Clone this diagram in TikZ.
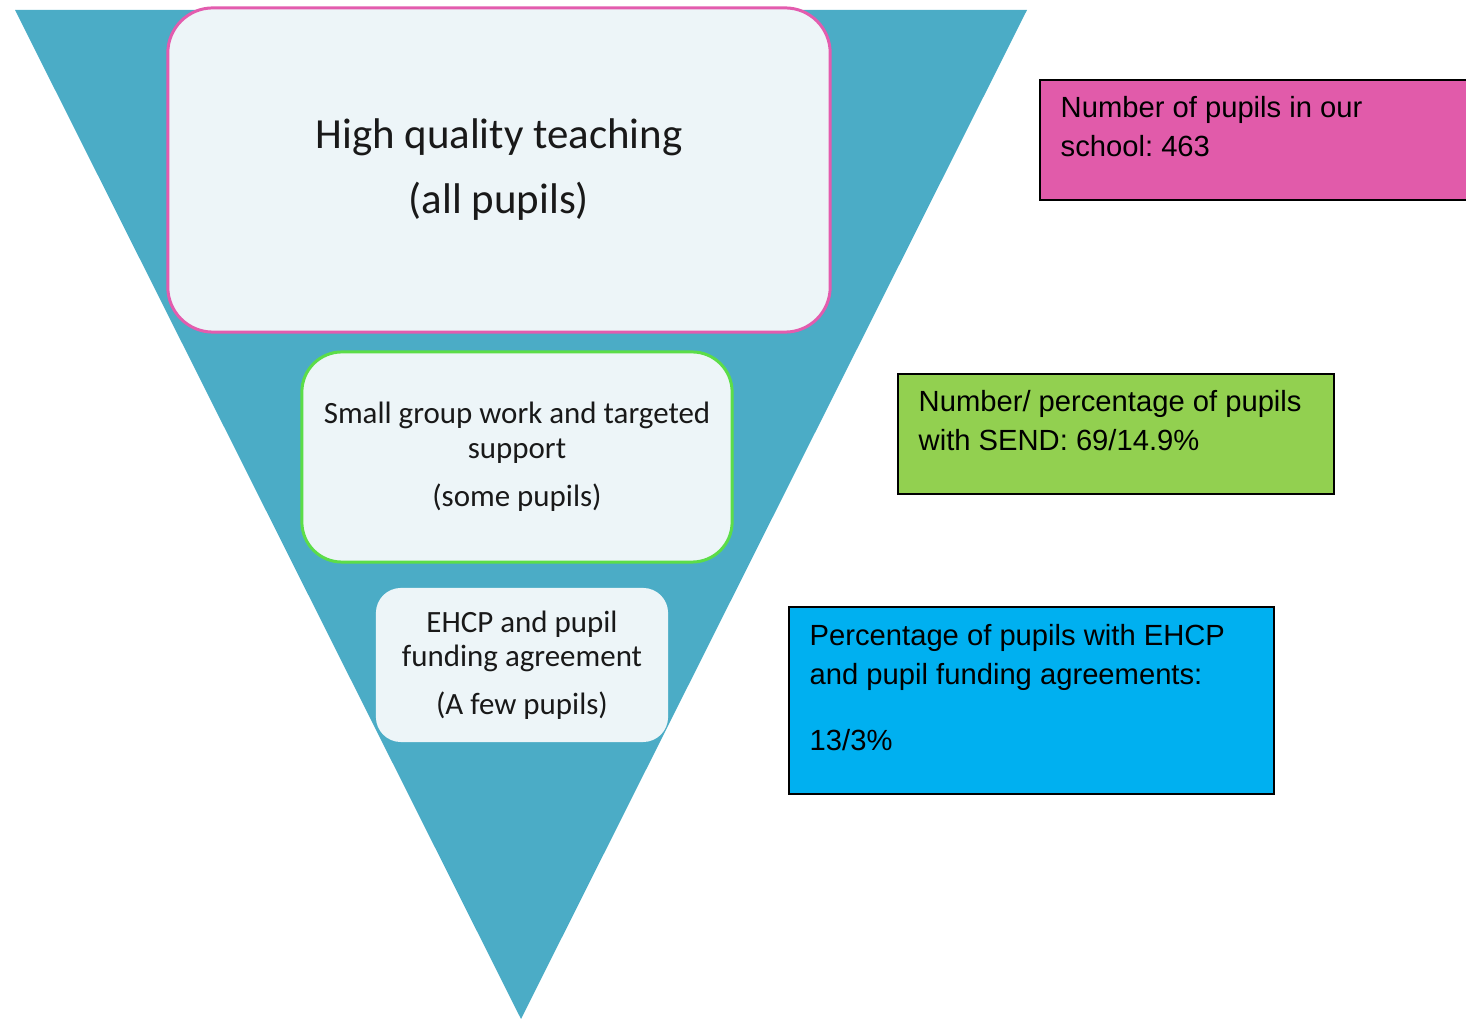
\documentclass[tikz,border=0pt]{standalone}
\usepackage{fontspec}
\setmainfont{Liberation Sans}
\newfontfamily\calfont{Carlito}
\usepackage{xcolor}
\definecolor{aqua}{HTML}{4BACC6}
\definecolor{pale}{HTML}{EDF5F8}
\definecolor{rose}{HTML}{E35CAE}
\definecolor{lime}{HTML}{5CDD48}
\definecolor{pinkfill}{HTML}{E15BAA}
\definecolor{greenfill}{HTML}{92D050}
\definecolor{bluefill}{HTML}{00B0F0}
\usepackage{tikz}
\usetikzlibrary{positioning}
\frenchspacing

\tikzset{
  tier/.style={fill=pale, align=center, inner sep=0pt, text=black!90},
  infobox/.style={draw=black, line width=.6pt, anchor=north west, inner sep=0pt},
  infotext/.style={anchor=north west, align=left, inner sep=0pt,
    font=\fontsize{8.3}{11.1}\selectfont}
}

\begin{document}
\begin{tikzpicture}[x=0.01cm, y=-0.01cm]
\useasboundingbox (0,0) rectangle (1466,1019);

%%% the big triangle
\fill[aqua] (15,10) -- (1027,10) -- (521,1019) -- cycle;

%%% tiers inside
\node[tier, draw=rose, line width=.85pt, rounded corners=.45cm,
  minimum width=6.62cm, minimum height=3.24cm,
  font=\calfont\fontsize{12.2}{18.5}\selectfont] (allpupils) at (499,170)
  {High quality teaching\\(all pupils)};

\node[tier, draw=lime, line width=.85pt, rounded corners=.4cm,
  minimum width=4.30cm, minimum height=2.10cm,
  font=\calfont\fontsize{8.8}{10}\selectfont] (somepupils) at (517,457)
  {Small group work and targeted\\support\\[3.7pt](some pupils)};

\node[tier, rounded corners=.25cm,
  minimum width=2.92cm, minimum height=1.54cm,
  font=\calfont\fontsize{8.8}{9.7}\selectfont] (fewpupils) at (522,665)
  {EHCP and pupil\\funding agreement\\[4pt](A few pupils)};

%%% the figures on the right
\node[infobox, fill=pinkfill, minimum width=5cm, minimum height=1.20cm] (pinkbox) at (1039,79) {};
\node[infotext] (pinktext) at (1060,96) {Number of pupils in our\\school: 463};

\node[infobox, fill=greenfill, minimum width=4.36cm, minimum height=1.20cm] (greenbox) at (897,373) {};
\node[infotext] (greentext) at (918,390) {Number/ percentage of pupils\\with SEND: 69/14.9\%};

\node[infobox, fill=bluefill, minimum width=4.85cm, minimum height=1.87cm] (bluebox) at (788,606) {};
\node[infotext] (bluetext) at (809,624)
  {Percentage of pupils with EHCP\\and pupil funding agreements:\\[7.6pt]13/3\%};

\end{tikzpicture}
\end{document}
